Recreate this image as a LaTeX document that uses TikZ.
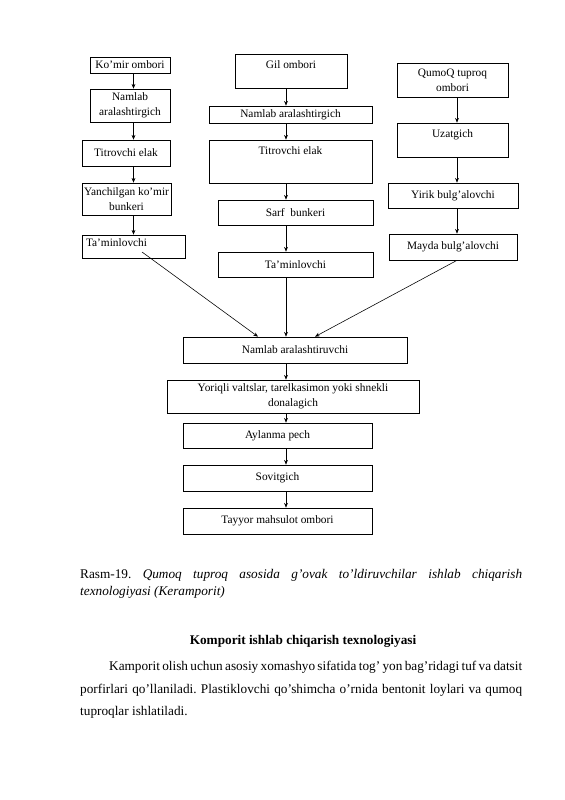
\documentclass[tikz,border=0pt]{standalone}
\usepackage{fontspec}
\setmainfont{Liberation Serif}
\usetikzlibrary{arrows.meta, calc}

\newlength{\pxu}
\setlength{\pxu}{0.37125mm}

\frenchspacing

\tikzset{
  blok/.style={draw, line width=0.7pt, inner sep=1pt, align=center,
    font=\fontsize{12}{15.5}\selectfont},
  strelka/.style={-{Stealth[length=5pt,width=4pt]}, line width=0.6pt},
  matn/.style={anchor=base west, inner sep=0pt, font=\fontsize{14}{16}\selectfont}
}

\begin{document}
\begin{tikzpicture}[x=0.37125mm, y=-0.37125mm]

    % Page frame (A4 page, one unit = one pixel of the scan)
    \useasboundingbox (0,0) rectangle (565,800);

    % x positions of the arrows in the middle and right columns
    \coordinate (ox2) at (286,0);
    \coordinate (ox3) at (457,0);

    % Left column: ko'mir line
    \node[blok, minimum width=80\pxu, minimum height=16\pxu] (komir) at (130,65) {Ko’mir ombori};
    \node[blok, minimum width=80\pxu, minimum height=33\pxu] (namlab1) at (130,105.5) {Namlab\\aralashtirgich};
    \node[blok, minimum width=88\pxu, minimum height=26\pxu] (titrov1) at (126,153) {Titrovchi elak};
    \node[blok, minimum width=89\pxu, minimum height=32\pxu] (yanch) at (126.5,199) {Yanchilgan ko’mir\\bunkeri};
    \node[blok, minimum width=103\pxu, minimum height=23\pxu, text width=95\pxu,
          align=left, text depth=8pt] (tamin1) at (133.5,246.5) {Ta’minlovchi};

    % Middle column: gil line
    \node[blok, minimum width=112\pxu, minimum height=34\pxu, text depth=13pt] (gil) at (291,71) {Gil ombori};
    \node[blok, minimum width=163\pxu, minimum height=17\pxu, inner sep=0pt, text depth=1pt] (namlab2) at (290.5,114.5) {Namlab aralashtirgich};
    \node[blok, minimum width=163\pxu, minimum height=43\pxu, text depth=23pt] (titrov2) at (290.5,161.5) {Titrovchi elak};
    \node[blok, minimum width=155\pxu, minimum height=25\pxu] (sarf) at (295.5,212.5) {Sarf\enspace bunkeri};
    \node[blok, minimum width=155\pxu, minimum height=25\pxu] (tamin2) at (295.5,264.5) {Ta’minlovchi};

    % Right column: qumoq tuproq line
    \node[blok, minimum width=111\pxu, minimum height=34\pxu] (qumoq) at (452.5,80) {QumoQ tuproq\\ombori};
    \node[blok, minimum width=111\pxu, minimum height=34\pxu, text depth=14pt] (uzat) at (452.5,140) {Uzatgich};
    \node[blok, minimum width=130\pxu, minimum height=25\pxu] (yirik) at (453,195.5) {Yirik bulg’alovchi};
    \node[blok, minimum width=128\pxu, minimum height=26\pxu] (mayda) at (453,247) {Mayda bulg’alovchi};

    % Common line
    \node[blok, minimum width=224\pxu, minimum height=26\pxu] (namlab3) at (295,350) {Namlab aralashtiruvchi};
    \node[blok, minimum width=252\pxu, minimum height=33\pxu] (yoriq) at (293,396.5) {Yoriqli valtslar, tarelkasimon yoki shnekli\\donalagich};
    \node[blok, minimum width=189\pxu, minimum height=25\pxu] (aylanma) at (277.5,435.5) {Aylanma pech};
    \node[blok, minimum width=189\pxu, minimum height=26\pxu] (sovit) at (277.5,478) {Sovitgich};
    \node[blok, minimum width=189\pxu, minimum height=26\pxu] (tayyor) at (277.5,521) {Tayyor mahsulot ombori};

    % Arrows, left column
    \draw[strelka] (komir.south -| tamin1) -- (namlab1.north -| tamin1);
    \draw[strelka] (namlab1.south -| tamin1) -- (titrov1.north -| tamin1);
    \draw[strelka] (titrov1.south -| tamin1) -- (yanch.north -| tamin1);
    \draw[strelka] (yanch.south -| tamin1) -- (tamin1.north);

    % Arrows, middle column
    \draw[strelka] (gil.south -| ox2) -- (namlab2.north -| ox2);
    \draw[strelka] (namlab2.south -| ox2) -- (titrov2.north -| ox2);
    \draw[strelka] (titrov2.south -| ox2) -- (sarf.north -| ox2);
    \draw[strelka] (sarf.south -| ox2) -- (tamin2.north -| ox2);

    % Arrows, right column
    \draw[strelka] (qumoq.south -| ox3) -- (uzat.north -| ox3);
    \draw[strelka] (uzat.south -| ox3) -- (yirik.north -| ox3);
    \draw[strelka] (yirik.south -| ox3) -- (mayda.north -| ox3);

    % The three lines meet in the mixer
    \coordinate (l1) at (142,252);
    \draw[strelka] (l1) -- ($(namlab3.north)+(-37,0)$);
    \draw[strelka] (tamin2.south -| ox2) -- (namlab3.north -| ox2);
    \draw[strelka] (mayda.south -| ox3) -- ($(namlab3.north)+(20,0)$);

    % Arrows, common line
    \draw[strelka] (namlab3.south -| ox2) -- (yoriq.north -| ox2);
    \draw[strelka] (yoriq.south -| ox2) -- (aylanma.north -| ox2);
    \draw[strelka] (aylanma.south -| ox2) -- (sovit.north -| ox2);
    \draw[strelka] (sovit.south -| ox2) -- (tayyor.north -| ox2);

    % Caption and text below the scheme
    \node[matn] (rasm1) at (80,578) {\makebox[442\pxu][s]{Rasm-19. \textit{Qumoq tuproq asosida g’ovak to’ldiruvchilar ishlab chiqarish}}};
    \node[matn] (rasm2) at (80,595) {\textit{texnologiyasi (Keramporit)}};
    \node[matn, anchor=base, font=\fontsize{14}{16}\selectfont\bfseries] (sarlavha) at (303,644) {Komporit ishlab chiqarish texnologiyasi};
    \node[matn] (qator1) at (109,670) {\makebox[413\pxu][s]{Kamporit olish uchun asosiy xomashyo sifatida tog’ yon bag’ridagi tuf va datsit}};
    \node[matn] (qator2) at (80,693) {\makebox[442\pxu][s]{porfirlari qo’llaniladi. Plastiklovchi qo’shimcha o’rnida bentonit loylari va qumoq}};
    \node[matn] (qator3) at (80,715) {tuproqlar ishlatiladi.};

\end{tikzpicture}
\end{document}
